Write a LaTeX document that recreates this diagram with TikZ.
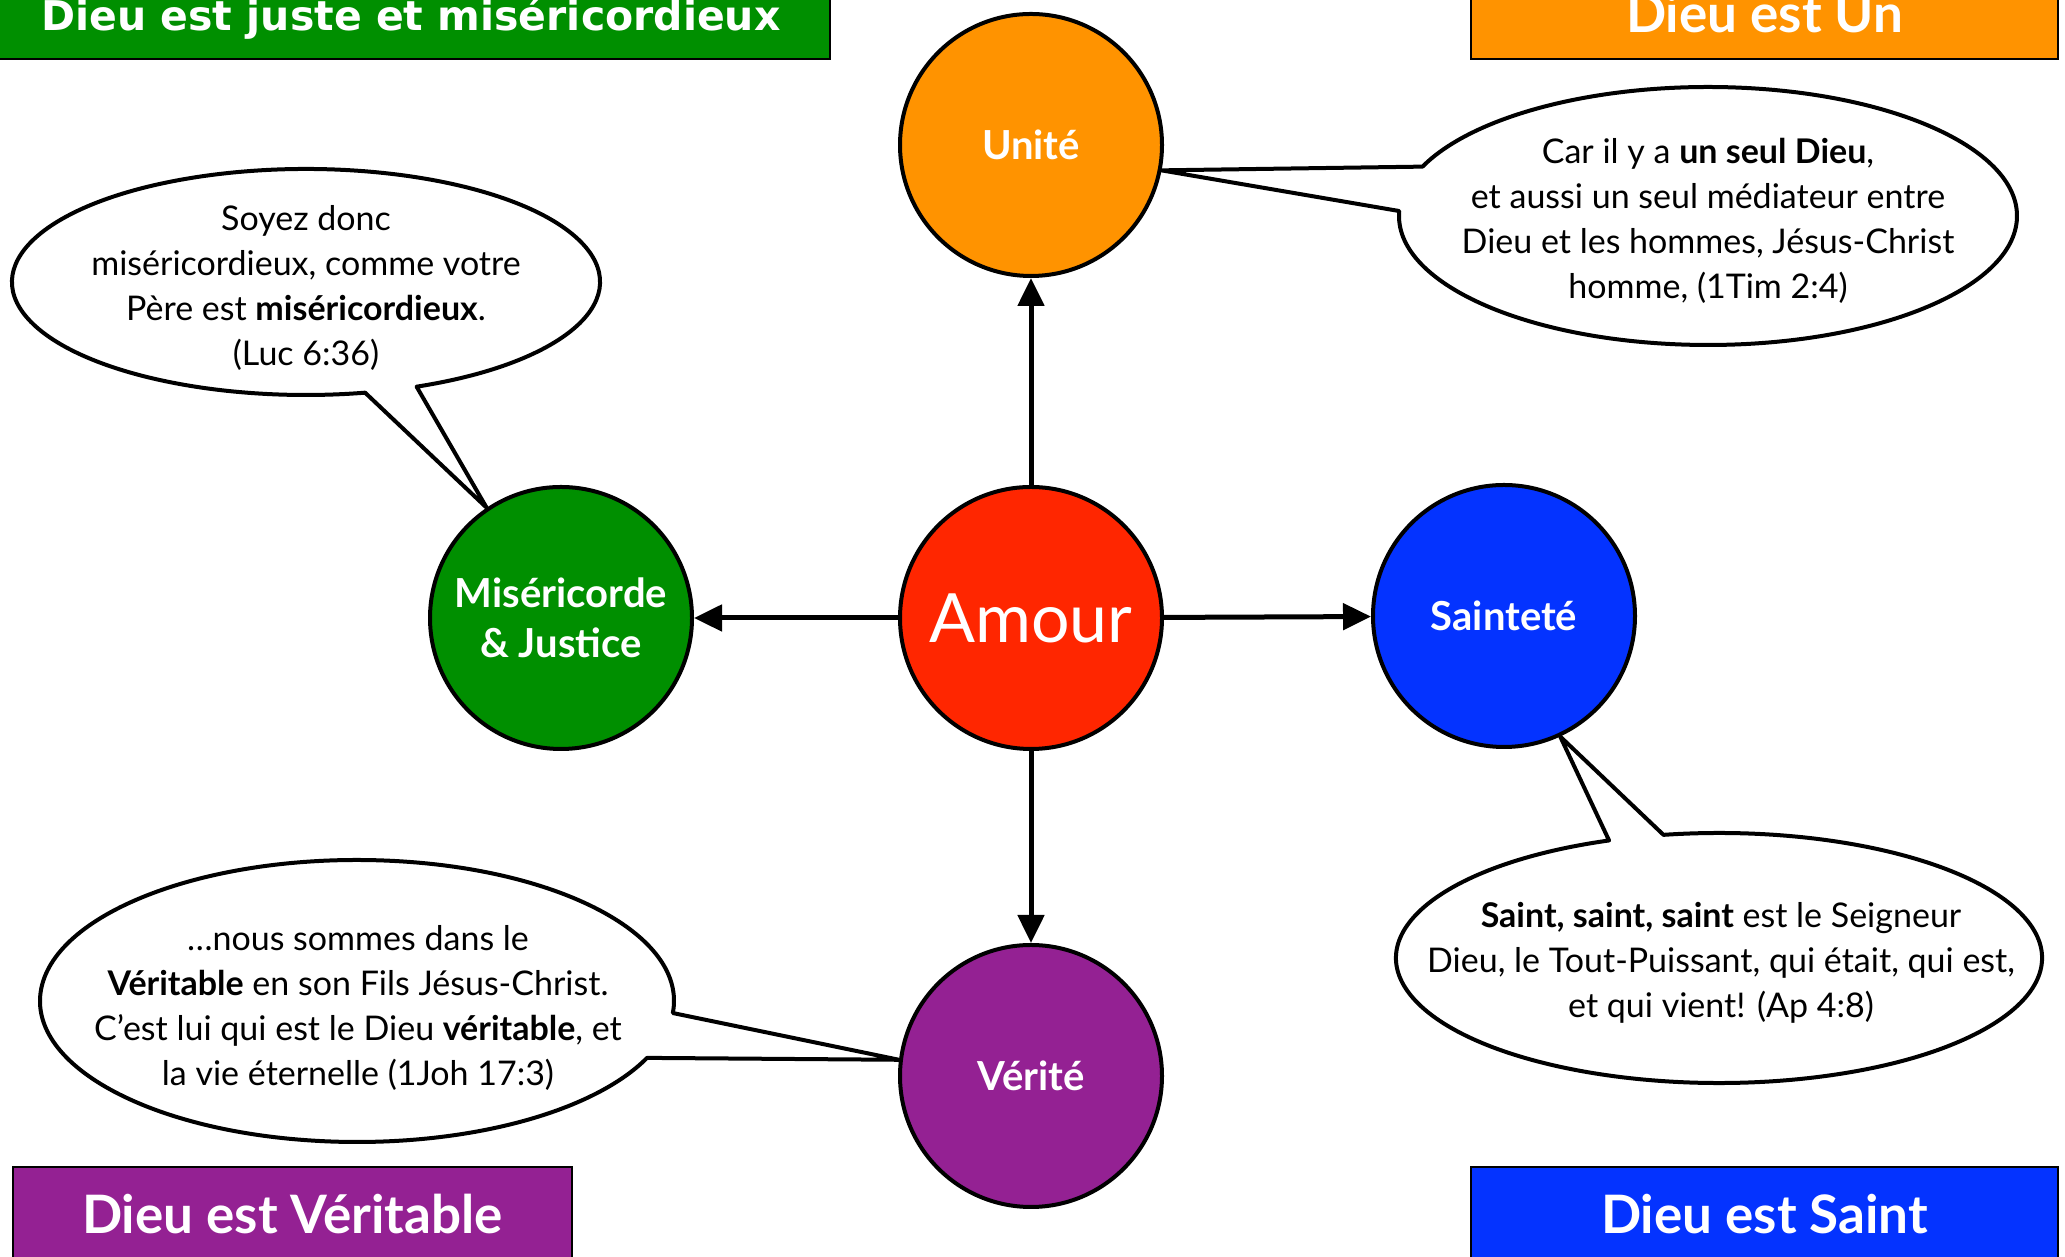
\documentclass[tikz,border=0pt]{standalone}
\usepackage{fontspec}
\setmainfont{Lato}
\newfontfamily\djv{DejaVu Sans}
\usetikzlibrary{arrows.meta,calc}
\definecolor{kgreen}{HTML}{008F00}
\definecolor{korange}{HTML}{FF9300}
\definecolor{kred}{HTML}{FF2600}
\definecolor{kblue}{HTML}{0433FF}
\definecolor{kpurple}{HTML}{942193}
\begin{document}
\begin{tikzpicture}[x=1pt,y=1pt,
 circ/.style={circle, draw=black, line width=4pt, minimum size=262pt, inner sep=0pt, text=white, font=\fontsize{40}{50}\selectfont\bfseries, align=center},
 banner/.style={draw=black, line width=2.5pt, text=white, font=\fontsize{53}{56}\selectfont\bfseries, minimum height=92pt, inner sep=0pt},
 btxt/.style={font=\fontsize{34}{45}\selectfont, align=center, inner sep=0pt},
 bubble/.style={draw=black, fill=white, line width=4pt, line join=round},
 link/.style={line width=5pt, -{Triangle[length=28pt,width=26pt]}}
]
\useasboundingbox (0,0) rectangle (2065,1257);

% banners
\node[banner, fill=kgreen, minimum width=833pt, font=\djv\fontsize{41}{44}\selectfont\bfseries, text depth=0pt] (bg) at (413.5,1244) {};
\node[text=white, font=\djv\fontsize{41}{44}\selectfont\bfseries, inner sep=0pt] (bgt) at (411,1238) {Dieu est juste et miséricordieux};
\node[banner, fill=korange, minimum width=587pt] (bo) at (1764.5,1244) {Dieu est Un};
\node[banner, fill=kpurple, minimum width=559pt, minimum height=94pt] (bp) at (292.5,43) {Dieu est Véritable};
\node[banner, fill=kblue, minimum width=587pt, minimum height=94pt] (bb) at (1764.5,43) {Dieu est Saint};

% circles
\node[circ, fill=kred, font=\fontsize{68}{72}\selectfont] (amour) at (1031,639) {Amour};
\node[circ, fill=korange] (uni) at (1031,1112) {Unité};
\node[circ, fill=kgreen] (mis) at (561,639) {Miséricorde\\\& Justice};
\node[circ, fill=kblue] (sai) at (1504,641) {Sainteté};
\node[circ, fill=kpurple] (ver) at (1031,181) {Vérité};

% arrows
\draw[link] (amour) -- (uni);
\draw[link] (amour) -- (mis);
\draw[link] (amour) -- (sai);
\draw[link] (amour) -- (ver);

% bubbles
\coordinate (b1) at (306,975);
\coordinate (b2) at (1708,1041);
\coordinate (b3) at (357,256);
\coordinate (b4) at (1719,299);

\draw[bubble] ([shift={(-67.9:294 and 113)}]b1) arc[start angle=-67.9,end angle=281.6,x radius=294,y radius=113] -- (mis.124) -- cycle;
\draw[bubble] ([shift={(177.8:309 and 129)}]b2) arc[start angle=177.8,end angle=517.5,x radius=309,y radius=129] -- (uni.-11) -- cycle;
\draw[bubble] ([shift={(-4.9:317 and 141)}]b3) arc[start angle=-4.9,end angle=336.2,x radius=317,y radius=141] -- (ver.173) -- cycle;
\draw[bubble] ([shift={(109.9:323 and 125)}]b4) arc[start angle=109.9,end angle=459.9,x radius=323,y radius=125] -- (sai.-65) -- cycle;

\node[btxt] (t1) at (306,969) {Soyez donc\\ miséricordieux, comme votre\\ Père est \textbf{miséricordieux}.\\ (Luc 6:36)};
\node[btxt] (t2) at (1708,1036) {Car il y a \textbf{un seul Dieu},\\ et aussi un seul médiateur entre\\ Dieu et les hommes, Jésus-Christ\\ homme, (1Tim 2:4)};
\node[btxt] (t3) at (358,249) {…nous sommes dans le\\ \textbf{Véritable} en son Fils Jésus-Christ.\\ C’est lui qui est le Dieu \textbf{véritable}, et\\ la vie éternelle (1Joh 17:3)};
\node[btxt] (t4) at (1721,294) {\textbf{Saint, saint, saint} est le Seigneur\\ Dieu, le Tout-Puissant, qui était, qui est,\\ et qui vient! (Ap 4:8)};
\end{tikzpicture}
\end{document}
